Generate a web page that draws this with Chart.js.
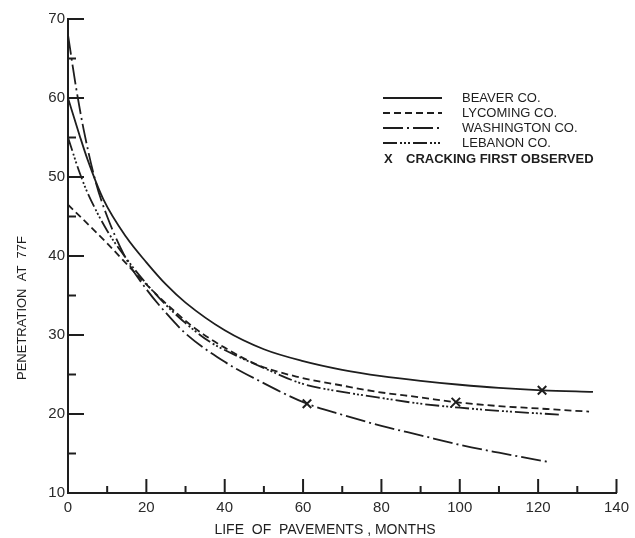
<!DOCTYPE html>
<html>
<head>
<meta charset="utf-8">
<script src="https://cdn.jsdelivr.net/npm/chart.js@4.4.1/dist/chart.umd.min.js"></script>
<style>
  html, body { margin: 0; padding: 0; background: #fff; }
  #wrap { width: 635px; height: 538px; }
</style>
</head>
<body>
<div id="wrap"><canvas id="penChart"></canvas></div>
<script>
// 資料
const beaverX = [0, 3, 5, 9, 15, 20, 25, 30, 40, 50, 60, 70, 80, 90, 100, 110, 121, 134];
const beaverY = [60, 55.2, 52.2, 47.2, 42.3, 39.2, 36.4, 34.1, 30.6, 28.2, 26.7, 25.6, 24.8, 24.2, 23.7, 23.3, 23.0, 22.8];

const lycomingX = [0, 10, 18, 25, 32, 40, 48.5, 58.6, 70, 79, 90, 99, 110, 120, 133];
const lycomingY = [46.5, 41.6, 37.4, 34, 31, 28.4, 26.2, 24.7, 23.6, 22.8, 22.1, 21.5, 21.0, 20.7, 20.3];

const washingtonX = [0, 2, 4, 7, 10, 15, 20, 25, 30, 40, 48, 61, 70, 80, 90, 100, 110, 123];
const washingtonY = [68, 61.5, 56, 49.5, 45, 39.5, 35.8, 32.8, 30.2, 26.6, 24.4, 21.3, 19.9, 18.5, 17.3, 16.1, 15.1, 13.9];

const lebanonX = [0, 3, 5, 10, 15, 20, 25, 30, 36, 40, 51, 60, 70, 79, 90, 100, 110, 126];
const lebanonY = [55, 50.5, 48, 43.2, 39.6, 36.5, 33.8, 31.5, 29.2, 28.1, 25.6, 23.8, 22.8, 22.1, 21.3, 20.8, 20.4, 19.9];

// 裂縫首次出現
const crackX = [61, 99, 121];
const crackY = [21.3, 21.5, 23.0];

const xTicks = [0, 20, 40, 60, 80, 100, 120, 140];
const yTicks = [10, 20, 30, 40, 50, 60, 70];

const legendNames = ['BEAVER CO.', 'LYCOMING CO.', 'WASHINGTON CO.', 'LEBANON CO.'];
const crackLabel = 'CRACKING FIRST OBSERVED';

const ink = '#1e1e1e';

function toPoints(xs, ys) {
	return xs.map((x, i) => ({ x: x, y: ys[i] }));
}

function curve(label, xs, ys, dash) {
	return {
		label: label,
		data: toPoints(xs, ys),
		borderColor: ink,
		borderWidth: 1.8,
		borderDash: dash,
		pointRadius: 0,
		fill: false,
		cubicInterpolationMode: 'monotone'
	};
}

// 刻度線 (朝內) + 軸標題 + 圖例
const decoPlugin = {
	id: 'deco',
	afterDraw(chart) {
		const ctx = chart.ctx;
		const xs = chart.scales.x;
		const ys = chart.scales.y;
		const area = chart.chartArea;
		ctx.save();
		ctx.strokeStyle = ink;
		ctx.lineWidth = 2;
		// y 軸刻度
		for (let v = ys.min; v <= ys.max; v += 5) {
			const py = ys.getPixelForValue(v);
			const len = (v % 10 === 0) ? 16 : 8;
			ctx.beginPath();
			ctx.moveTo(area.left, py);
			ctx.lineTo(area.left + len, py);
			ctx.stroke();
		}
		// x 軸刻度
		for (let v = xs.min; v <= xs.max; v += 10) {
			const px = xs.getPixelForValue(v);
			const len = (v % 20 === 0) ? 14 : 7;
			ctx.beginPath();
			ctx.moveTo(px, area.bottom);
			ctx.lineTo(px, area.bottom - len);
			ctx.stroke();
		}

		// 軸標題
		ctx.fillStyle = ink;
		ctx.font = '14px "Liberation Sans", Arial, sans-serif';
		ctx.textAlign = 'center';
		ctx.textBaseline = 'middle';
		ctx.fillText('LIFE  OF  PAVEMENTS , MONTHS', 325, 530);
		ctx.save();
		ctx.translate(22, 308);
		ctx.rotate(-Math.PI / 2);
		ctx.font = '13px "Liberation Sans", Arial, sans-serif';
		ctx.fillText('PENETRATION  AT  77F', 0, 0);
		ctx.restore();

		// 圖例
		const lx0 = 383, lx1 = 442, tx = 462;
		const rowY = [98, 113, 128, 143];
		ctx.textAlign = 'left';
		ctx.font = '13px "Liberation Sans", Arial, sans-serif';
		for (let i = 0; i < legendNames.length; i++) {
			const ds = chart.data.datasets[i];
			ctx.save();
			ctx.lineWidth = 1.8;
			ctx.setLineDash(ds.borderDash || []);
			ctx.beginPath();
			ctx.moveTo(lx0, rowY[i]);
			ctx.lineTo(lx1, rowY[i]);
			ctx.stroke();
			ctx.restore();
			ctx.fillText(legendNames[i], tx, rowY[i]);
		}
		ctx.font = 'bold 13px "Liberation Sans", Arial, sans-serif';
		ctx.fillText('X', 384, 159);
		ctx.fillText(crackLabel, 406, 159);
		ctx.restore();
	}
};

const penChart = new Chart(document.getElementById('penChart'), {
	type: 'line',
	data: {
		datasets: [
			curve(legendNames[0], beaverX, beaverY, []),
			curve(legendNames[1], lycomingX, lycomingY, [7, 4]),
			curve(legendNames[2], washingtonX, washingtonY, [20, 4, 2, 4]),
			curve(legendNames[3], lebanonX, lebanonY, [14, 3, 2, 2, 2, 2, 2, 3]),
			{
				type: 'scatter',
				label: 'X',
				data: toPoints(crackX, crackY),
				showLine: false,
				pointStyle: 'crossRot',
				pointRadius: 6,
				borderColor: ink,
				borderWidth: 2
			}
		]
	},
	options: {
		responsive: true,
		maintainAspectRatio: false,
		animation: false,
		layout: { padding: { left: 0, right: 13, top: 19, bottom: 0 } },
		plugins: {
			legend: { display: false },
			tooltip: { enabled: false }
		},
		scales: {
			x: {
				type: 'linear',
				min: 0,
				max: 140,
				afterBuildTicks: s => { s.ticks = xTicks.map(v => ({ value: v })); },
				afterFit: s => { s.height = 45; },
				grid: { display: false, drawTicks: false },
				border: { display: true, color: ink, width: 2 },
				ticks: {
					padding: 6,
					color: '#2a2a2a',
					maxRotation: 0,
					font: { family: '"Liberation Sans", Arial, sans-serif', size: 15 }
				}
			},
			y: {
				type: 'linear',
				min: 10,
				max: 70,
				afterBuildTicks: s => { s.ticks = yTicks.map(v => ({ value: v })); },
				afterFit: s => { s.width = 68; },
				grid: { display: false, drawTicks: false },
				border: { display: true, color: ink, width: 2 },
				ticks: {
					padding: 3,
					color: '#2a2a2a',
					font: { family: '"Liberation Sans", Arial, sans-serif', size: 15 }
				}
			}
		}
	},
	plugins: [decoPlugin]
});
</script>
</body>
</html>
